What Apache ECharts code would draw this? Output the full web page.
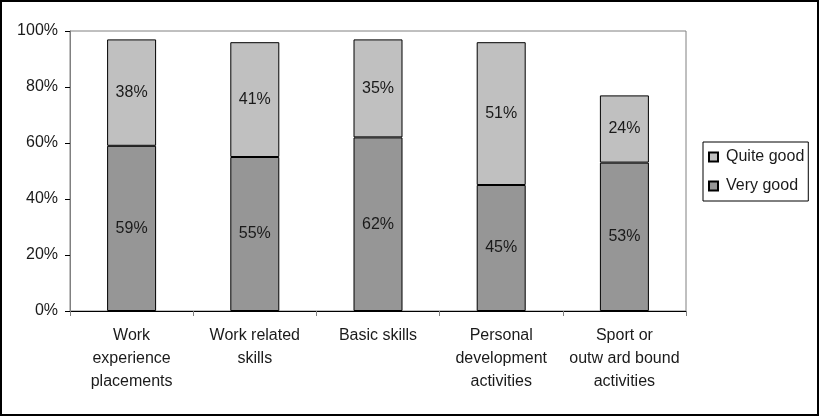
<!DOCTYPE html>
<html><head><meta charset="utf-8">
<script src="https://cdn.jsdelivr.net/npm/echarts@6/dist/echarts.min.js"></script>
<style>html,body{margin:0;padding:0;background:#fff}#c{width:819px;height:416px}</style>
</head><body><div id="c"></div>
<script>
var categories = ['Work\nexperience\nplacements', 'Work related\nskills', 'Basic skills', 'Personal\ndevelopment\nactivities', 'Sport or\noutw ard bound\nactivities'];
var veryGood = [59, 55, 62, 45, 53];
var quiteGood = [38, 41, 35, 51, 24];
var yTicks = [0, 20, 40, 60, 80, 100];

var font = 'Liberation Sans, Arial, sans-serif';
var txt = '#1a1a1a';
var chart = echarts.init(document.getElementById('c'), null, {renderer: 'canvas'});
chart.setOption({
  animation: false,
  backgroundColor: '#fff',
  grid: {left: 70, right: 133, top: 31, bottom: 105, show: true, borderColor: '#808080', borderWidth: 1, backgroundColor: 'transparent'},
  legend: {
    data: ['Quite good', 'Very good'],
    orient: 'vertical', left: 703, top: 142,
    width: 105,
    borderColor: '#000', borderWidth: 1,
    padding: [6, 4, 6, 5],
    itemWidth: 9, itemHeight: 9, itemGap: 11,
    icon: 'rect',
    textStyle: {fontFamily: font, fontSize: 16, color: txt, lineHeight: 18, padding: [0, 0, 0, 3]}
  },
  xAxis: {
    type: 'category', data: categories,
    axisLine: {lineStyle: {color: '#000', width: 1}},
    axisTick: {show: true, length: 5, lineStyle: {color: '#808080'}},
    axisLabel: {fontFamily: font, fontSize: 16, color: txt, lineHeight: 23, margin: 13, interval: 0}
  },
  yAxis: {
    type: 'value', min: yTicks[0], max: yTicks[yTicks.length - 1], interval: 20,
    axisLine: {show: true, lineStyle: {color: '#808080', width: 1}},
    axisTick: {show: true, length: 5, lineStyle: {color: '#000'}},
    splitLine: {show: false},
    axisLabel: {fontFamily: font, fontSize: 16, color: txt, margin: 12, formatter: '{value}%'}
  },
  series: [
    {name: 'Very good', type: 'bar', stack: 's', data: veryGood, barWidth: 49,
     itemStyle: {color: '#969696', borderColor: '#000', borderWidth: 1},
     label: {show: true, position: 'inside', formatter: '{c}%', fontFamily: font, fontSize: 16, color: txt}},
    {name: 'Quite good', type: 'bar', stack: 's', data: quiteGood, barWidth: 49,
     itemStyle: {color: '#c0c0c0', borderColor: '#000', borderWidth: 1},
     label: {show: true, position: 'inside', formatter: '{c}%', fontFamily: font, fontSize: 16, color: txt}}
  ],
  graphic: [{type: 'rect', shape: {x: 1, y: 1, width: 817, height: 414}, style: {fill: 'none', stroke: '#000', lineWidth: 2}, silent: true}]
});
</script></body></html>
